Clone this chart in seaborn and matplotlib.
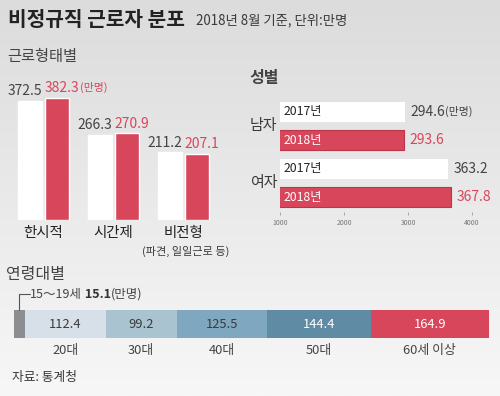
import numpy as np
import pandas as pd
import matplotlib
matplotlib.use('Agg')
import matplotlib.pyplot as plt
import matplotlib.transforms as mtransforms
from matplotlib.colors import LinearSegmentedColormap, to_hex
import seaborn as sns

# data
years = ['2017년', '2018년']
work_types = ['한시적', '시간제', '비전형']
work_2017 = [372.5, 266.3, 211.2]
work_2018 = [382.3, 270.9, 207.1]

genders = ['남자', '여자']
gender_2017 = [294.6, 363.2]
gender_2018 = [293.6, 367.8]
gender_ticks = [100, 200, 300, 400]
gender_tick_labels = ['1000', '2000', '3000', '4000']

age_groups = ['15～19세', '20대', '30대', '40대', '50대', '60세 이상']
age_values = [15.1, 112.4, 99.2, 125.5, 144.4, 164.9]

RED = '#d8465b'
DARK = '#3a3a3a'
age_colors = ['#8b8d90', '#d7e0e8', '#a9c3d0', '#7fa7c0', '#5f8ba5', RED]
age_text_colors = [DARK, DARK, DARK, DARK, 'white', 'white']

sns.set_theme(style='white')
plt.rcParams['font.family'] = ['Noto Sans CJK KR', 'DejaVu Sans']

W, H = 500, 396
fig = plt.figure(figsize=(W / 100, H / 100), dpi=100)


def rect(left, top, right, bottom):
    return [left / W, 1 - bottom / H, (right - left) / W, (bottom - top) / H]


def ftext(x, y, s, **kw):
    fig.text(x / W, 1 - y / H, s, **kw)


# background gradient
bg = fig.add_axes([0, 0, 1, 1], zorder=-10)
bg_cmap = LinearSegmentedColormap.from_list('bg', ['#dcdcdc', '#f7f7f7'])
bg.imshow(np.linspace(0, 1, 200).reshape(-1, 1), cmap=bg_cmap, aspect='auto', extent=[0, 1, 0, 1])
bg.axis('off')

# titles
ftext(8, 19, '비정규직 근로자 분포', fontsize=14.6, fontweight='bold', color='#222222', va='center')
ftext(196, 20, '2018년 8월 기준, 단위:만명', fontsize=9.6, color=DARK, va='center')
ftext(7, 57, '근로형태별', fontsize=11, color='#444444', va='center')
ftext(249, 78, '성별', fontsize=11.5, fontweight='bold', color='#444444', va='center')
ftext(6, 274, '연령대별', fontsize=11.5, color='#444444', va='center')
ftext(12, 378, '자료: 통계청', fontsize=9.2, color=DARK, va='center')

# ---------------- 근로형태별 ----------------
ax1 = fig.add_axes(rect(8.5, 92, 218.5, 220))
ax1.set_facecolor('none')
work_df = pd.DataFrame({
    'type': work_types * 2,
    'year': [years[0]] * 3 + [years[1]] * 3,
    'value': work_2017 + work_2018,
})
sns.barplot(data=work_df, x='type', y='value', hue='year', palette=['white', RED],
            width=0.76, gap=0.1, saturation=1, legend=False, ax=ax1)
ax1.set_xlim(-0.5, 2.5)
ax1.set_ylim(0, 400)
ax1.set_axis_off()

for i, t in enumerate(work_types):
    ax1.annotate(f'{work_2017[i]}', xy=(i - 0.02, work_2017[i]), xytext=(0, 2),
                 textcoords='offset points', ha='right', va='bottom',
                 fontsize=10, color='#444444')
    t18 = ax1.annotate(f'{work_2018[i]}', xy=(i + 0.02, work_2018[i]), xytext=(0, 2),
                       textcoords='offset points', ha='left', va='bottom',
                       fontsize=10, color=RED)
    if i == 0:
        ax1.annotate('(만명)', xy=(1, 0.1), xycoords=t18, ha='left', va='bottom',
                     fontsize=7.8, color=RED)
    ax1.annotate(t, xy=(i, 0), xytext=(0, -4), textcoords='offset points',
                 ha='center', va='top', fontsize=10.4, color='#222222')
ax1.annotate('(파견, 일일근로 등)', xy=(2.03, 0), xytext=(0, -19), textcoords='offset points',
             ha='center', va='top', fontsize=8, color=DARK)

# ---------------- 성별 ----------------
ax2 = fig.add_axes(rect(280, 97.5, 480, 211.5))
ax2.set_facecolor('none')
gender_df = pd.DataFrame({
    'gender': genders * 2,
    'year': [years[0]] * 2 + [years[1]] * 2,
    'value': gender_2017 + gender_2018,
})
sns.barplot(data=gender_df, y='gender', x='value', hue='year', orient='h',
            palette=['white', RED], width=1.0, gap=0.3, saturation=1, legend=False, ax=ax2)
for p in ax2.patches:
    if to_hex(p.get_facecolor()) == RED:
        p.set_edgecolor('#b8354a')
        p.set_linewidth(0.8)
    else:
        p.set_linewidth(0)
ax2.set_xlim(100, 412.5)
ax2.set_ylim(1.5, -0.5)
for s in ax2.spines.values():
    s.set_visible(False)
ax2.set_xlabel('')
ax2.set_ylabel('')
ax2.set_yticks([])
ax2.set_xticks(gender_ticks, gender_tick_labels)
ax2.tick_params(axis='x', bottom=True, length=2.5, width=0.6, color='#999999',
                labelsize=5, labelcolor='#777777', pad=3)

blend = mtransforms.blended_transform_factory(ax2.transAxes, ax2.transData)
for i, g in enumerate(genders):
    ax2.text(-0.152, i, g, transform=blend, ha='left', va='center', fontsize=10.8, color=DARK)
    ax2.text(0.018, i - 0.25, years[0], transform=blend, ha='left', va='center',
             fontsize=8.8, color='#222222')
    ax2.text(0.018, i + 0.25, years[1], transform=blend, ha='left', va='center',
             fontsize=8.8, color='white')
    v17 = ax2.annotate(f'{gender_2017[i]}', xy=(gender_2017[i], i - 0.25), xytext=(4, 0),
                       textcoords='offset points', ha='left', va='center',
                       fontsize=10, color='#444444', annotation_clip=False)
    if i == 0:
        ax2.annotate('(만명)', xy=(1, 0.1), xycoords=v17, ha='left', va='bottom',
                     fontsize=7.8, color='#444444')
    ax2.annotate(f'{gender_2018[i]}', xy=(gender_2018[i], i + 0.25), xytext=(4, 0),
                 textcoords='offset points', ha='left', va='center',
                 fontsize=10, color=RED, annotation_clip=False)

# ---------------- 연령대별 ----------------
ax3 = fig.add_axes(rect(14, 310, 489, 338))
ax3.set_facecolor('none')
lefts = np.concatenate([[0], np.cumsum(age_values)[:-1]])
ax3.barh(0, age_values, left=lefts, height=1, color=age_colors, linewidth=0)
ax3.set_xlim(0, sum(age_values))
ax3.set_ylim(-0.5, 0.5)
ax3.set_axis_off()

for i in range(1, len(age_values)):
    c = lefts[i] + age_values[i] / 2
    ax3.text(c, 0, f'{age_values[i]}', ha='center', va='center', fontsize=9.3,
             color=age_text_colors[i])
    ax3.annotate(age_groups[i], xy=(c, -0.5), xytext=(0, -4), textcoords='offset points',
                 ha='center', va='top', fontsize=9.3, color='#444444')

# 15~19세 callout
t0 = ax3.annotate(age_groups[0], xy=(age_values[0] / 2, 0.5), xytext=(7.6, 11.5),
                  textcoords='offset points', ha='left', va='center', fontsize=9,
                  color='#444444')
ax3.annotate('', xy=(age_values[0] / 2, 0.5), xycoords='data', xytext=(0, 0.5), textcoords=t0,
             arrowprops=dict(arrowstyle='-', color='#555555', lw=0.8, shrinkA=0, shrinkB=0,
                             connectionstyle='angle,angleA=0,angleB=90,rad=0'))
t1 = ax3.annotate(f' {age_values[0]}', xy=(1, 0), xycoords=t0, ha='left', va='bottom',
                  fontsize=9, fontweight='bold', color='#333333')
ax3.annotate('(만명)', xy=(1, 0), xycoords=t1, ha='left', va='bottom',
             fontsize=9, color='#444444')

fig.savefig('out.png', dpi=100)
